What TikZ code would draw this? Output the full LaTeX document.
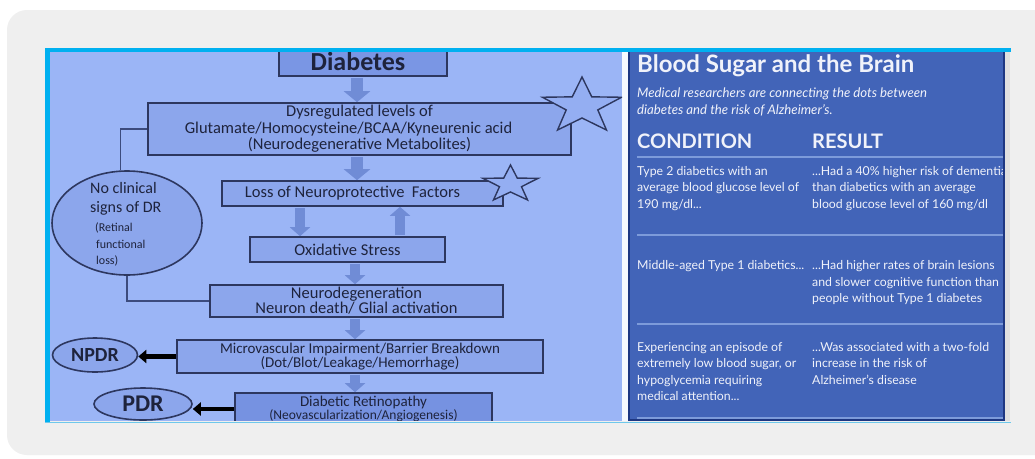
\documentclass[tikz,border=0pt]{standalone}
\usepackage{fontspec}
\setmainfont{Carlito}
\newfontfamily\lato{Lato}
\usetikzlibrary{shapes.geometric,arrows.meta,calc}
\newcommand\mydots{...}
\definecolor{bggrey}{RGB}{239,239,239}
\definecolor{cyanb}{RGB}{0,176,240}
\definecolor{cyanl}{RGB}{110,200,235}
\definecolor{lpanel}{RGB}{155,181,246}
\definecolor{boxfill}{RGB}{140,166,236}
\definecolor{diabfill}{RGB}{122,150,228}
\definecolor{drfill}{RGB}{118,146,225}
\definecolor{boxdraw}{RGB}{45,55,95}
\definecolor{boxtext}{RGB}{30,35,60}
\definecolor{arrowfill}{RGB}{112,140,214}
\definecolor{starfill}{RGB}{148,174,242}
\definecolor{connc}{RGB}{60,75,125}
\definecolor{rpanel}{RGB}{66,100,184}
\definecolor{rborder}{RGB}{30,55,130}
\definecolor{sepc}{RGB}{125,155,218}
\definecolor{rtextc}{RGB}{240,242,250}
\begin{document}
\begin{tikzpicture}[x=1pt,y=-1pt,
  box/.style={draw=boxdraw, line width=1.6pt, fill=boxfill, inner sep=0pt, align=center, text=boxtext},
  barrow/.style={draw=arrowfill, line width=12pt, -{Triangle[width=26pt,length=11pt]}},
  sbarrow/.style={draw=arrowfill, line width=10pt, -{Triangle[width=20pt,length=9pt]}},
  karrow/.style={draw=black, line width=4.5pt, -{Triangle[width=13pt,length=8pt]}},
  conn/.style={draw=connc, line width=1.4pt},
  oval/.style={ellipse, draw=boxdraw, line width=1.6pt, fill=boxfill, inner sep=0pt, text=boxtext},
  starst/.style={draw=boxdraw, line width=1.4pt, fill=starfill, line join=miter},
  rtext/.style={anchor=base west, inner sep=0pt, text=rtextc, font=\lato\fontsize{12.3}{14}\selectfont},
  etext/.style={anchor=base west, inner sep=0pt, text=boxtext},
]
\useasboundingbox (0,0) rectangle (1035,458);
\fill[white] (0,0) rectangle (1035,458);
\fill[bggrey, rounded corners=20pt] (7,10) rectangle (1060,455);
% left panel
\fill[lpanel] (50,52) rectangle (622,421);
\fill[white!92!lpanel] (622,52) rectangle (628,421);
\begin{scope}
\clip (50,52) rectangle (622,420);
\coordinate (ax1) at (357,0);
\coordinate (ax2) at (300,0);
\coordinate (ax3) at (400,0);
\coordinate (ax4) at (355,0);
\node[box, fill=diabfill, minimum width=168pt, minimum height=30pt, font=\bfseries\fontsize{26}{26}\selectfont] (diab) at (363,61) {\kern-10pt Diabetes};
\node[box, minimum width=423pt, minimum height=52pt, font=\fontsize{16.5}{16.5}\selectfont] (dys) at (359.5,129) {Dysregulated levels of\\\kern-22pt Glutamate/Homocysteine/BCAA/Kyneurenic acid\\(Neurodegenerative Metabolites)};
\node[box, minimum width=281pt, minimum height=25pt, font=\fontsize{16.5}{16.5}\selectfont] (loss) at (362.5,193.5) {\kern-20pt Loss of Neuroprotective\ \ Factors};
\node[box, minimum width=195pt, minimum height=25pt, font=\fontsize{16.5}{16.5}\selectfont] (ox) at (347.5,249.5) {Oxidative Stress};
\node[box, minimum width=293pt, minimum height=32pt, font=\fontsize{16.5}{15}\selectfont] (neuro) at (356.5,301) {Neurodegeneration\\Neuron death/ Glial activation};
\node[box, minimum width=366pt, minimum height=33pt, font=\fontsize{15}{14}\selectfont] (micro) at (360,356.5) {Microvascular Impairment/Barrier Breakdown\\(Dot/Blot/Leakage/Hemorrhage)};
\node[box, fill=drfill, minimum width=257pt, minimum height=32pt, font=\fontsize{15}{12}\selectfont] (dr) at (363.5,409) {Diabetic Retinopathy\\{\fontsize{13.5}{11}\selectfont(Neovascularization/Angiogenesis)}};
% ellipses
\node[oval, minimum width=150pt, minimum height=104pt] (nodr) at (127,223) {};
\node[etext, font=\fontsize{16}{16}\selectfont] (nc1) at (90,193) {No clinical};
\node[etext, font=\fontsize{16}{16}\selectfont] (nc2) at (90,212) {signs of DR};
\node[etext, font=\fontsize{12}{12}\selectfont] (nc3) at (95,231) {(Retinal};
\node[etext, font=\fontsize{12}{12}\selectfont] (nc4) at (96,248) {functional};
\node[etext, font=\fontsize{12}{12}\selectfont] (nc5) at (96,264) {loss)};
\node[oval, minimum width=85pt, minimum height=34pt, font=\bfseries\fontsize{20}{20}\selectfont] (npdr) at (95,355) {NPDR};
\node[oval, minimum width=98pt, minimum height=32pt, font=\bfseries\fontsize{24}{24}\selectfont] (pdr) at (143,404) {PDR};
% stars
\begin{scope}[shift={(582,106.3)}, xscale=1.42]
\draw[starst] (-90:29.3) \foreach \k in {1,...,9}{ -- ({-90+36*\k}:{ifthenelse(mod(\k,2)==0,29.3,11.7)}) } -- cycle;
\end{scope}
\begin{scope}[shift={(510.5,184.3)}, xscale=1.5]
\draw[starst] (-90:19.3) \foreach \k in {1,...,9}{ -- ({-90+36*\k}:{ifthenelse(mod(\k,2)==0,19.3,7.7)}) } -- cycle;
\end{scope}
% block arrows
\draw[barrow, shorten <=1pt] (diab.south -| ax1) -- (dys.north -| ax1);
\draw[barrow, shorten <=1pt] (dys.south -| ax1) -- (loss.north -| ax1);
\draw[sbarrow, shorten <=1pt] (loss.south -| ax2) -- (ox.north -| ax2);
\draw[sbarrow, shorten <=1pt] (ox.north -| ax3) -- (loss.south -| ax3);
\draw[sbarrow, shorten <=1pt] (ox.south -| ax4) -- (neuro.north -| ax4);
\draw[sbarrow, shorten <=1pt] (neuro.south -| ax4) -- (micro.north -| ax4);
\draw[sbarrow, shorten <=1pt] (micro.south -| ax4) -- (dr.north -| ax4);
% connectors
\draw[conn] (dys.west) -| (nodr.97);
\draw[conn] (nodr.south) |- (neuro.west);
\draw[karrow] (micro.west) -- (micro.west -| npdr.east);
\draw[karrow] (dr.west) -- (dr.west -| pdr.east);
\end{scope}
% right panel
\fill[rpanel] (628,52) rectangle (1005,420);
\begin{scope}
\clip (630,52) rectangle (1003,419);
\node[rtext, font=\lato\bfseries\fontsize{24}{24}\selectfont] (title) at (637,72) {Blood Sugar and the Brain};
\node[rtext, font=\lato\itshape\fontsize{13.2}{14}\selectfont] (sub1) at (637,97) {Medical researchers are connecting the dots between};
\node[rtext, font=\lato\itshape\fontsize{13.2}{14}\selectfont] (sub2) at (637,114) {diabetes and the risk of Alzheimer’s.};
\node[rtext, font=\lato\bfseries\fontsize{20}{20}\selectfont] (hc) at (637,148) {CONDITION};
\node[rtext, font=\lato\bfseries\fontsize{20}{20}\selectfont] (hr) at (812,148) {RESULT};
\foreach \yy in {157,235,324,418} \draw[sepc, line width=1.5pt] (637,\yy) -- (1003,\yy);
\foreach \t [count=\i] in {Type 2 diabetics with an, average blood glucose level of, {190 mg/dl\mydots}}
  \node[rtext] (ca\i) at (637,{175+16.5*(\i-1)}) {\t};
\foreach \t [count=\i] in {{\mydots Had a 40\% higher risk of dementia}, than diabetics with an average, blood glucose level of 160 mg/dl}
  \node[rtext] (ra\i) at (812,{175+16.5*(\i-1)}) {\t};
\node[rtext] (cb1) at (637,269.5) {Middle-aged Type 1 diabetics\mydots};
\foreach \t [count=\i] in {{\mydots Had higher rates of brain lesions}, and slower cognitive function than, people without Type 1 diabetes}
  \node[rtext] (rb\i) at (812,{269.5+16.5*(\i-1)}) {\t};
\foreach \t [count=\i] in {Experiencing an episode of, {extremely low blood sugar, or}, hypoglycemia requiring, {medical attention\mydots}}
  \node[rtext] (cc\i) at (637,{351+16.5*(\i-1)}) {\t};
\foreach \t [count=\i] in {{\mydots Was associated with a two-fold}, increase in the risk of, Alzheimer’s disease}
  \node[rtext] (rc\i) at (812,{351+16.5*(\i-1)}) {\t};
\end{scope}
\draw[rborder, line width=2pt] (629,52) -- (629,420) -- (1004,420) -- (1004,52);
\fill[black!12!white] (1005,52) rectangle (1010,421);
% cyan frame
\fill[cyanb] (45,48) rectangle (1011,52);
\fill[cyanb] (45,48) rectangle (50,423);
\fill[cyanl] (45,421.5) rectangle (1011,423);
\end{tikzpicture}
\end{document}
